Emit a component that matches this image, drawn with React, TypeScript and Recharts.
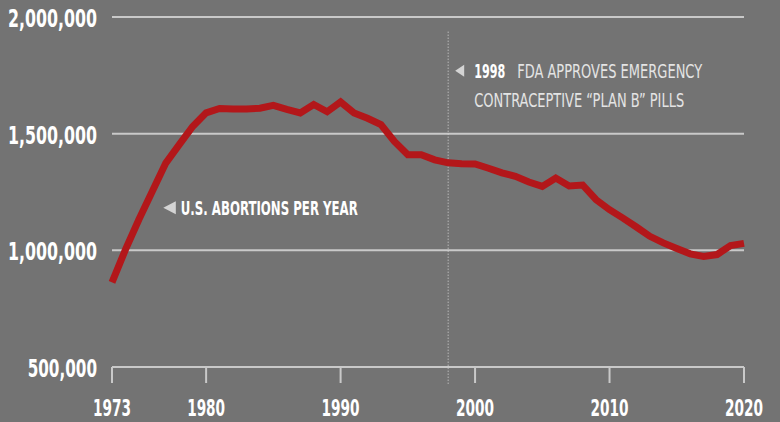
import {
  LineChart,
  Line,
  XAxis,
  YAxis,
  CartesianGrid,
  ReferenceLine,
  ReferenceDot,
} from "recharts";

const YEARS = [
  1973, 1974, 1975, 1976, 1977, 1978, 1979, 1980, 1981, 1982, 1983, 1984,
  1985, 1986, 1987, 1988, 1989, 1990, 1991, 1992, 1993, 1994, 1995, 1996,
  1997, 1998, 1999, 2000, 2001, 2002, 2003, 2004, 2005, 2006, 2007, 2008,
  2009, 2010, 2011, 2012, 2013, 2014, 2015, 2016, 2017, 2018, 2019, 2020,
];

// abortions per year
const ABORTIONS = [
  863000, 1003000, 1132000, 1253000, 1374000, 1453000, 1531000, 1589000,
  1608000, 1606000, 1606000, 1609000, 1621000, 1604000, 1589000, 1625000,
  1594000, 1636000, 1589000, 1566000, 1539000, 1467000, 1410000, 1410000,
  1388000, 1375000, 1371000, 1370000, 1352000, 1332000, 1317000, 1293000,
  1274000, 1310000, 1276000, 1280000, 1217000, 1174000, 1138000, 1100000,
  1060000, 1032000, 1008000, 985000, 974000, 982000, 1020000, 1030000,
];

const X_TICKS = [1973, 1980, 1990, 2000, 2010, 2020];
const Y_TICKS = [500000, 1000000, 1500000, 2000000];

const PLAN_B_YEAR = 1998;

const data = YEARS.map((year, i) => ({ year, value: ABORTIONS[i] }));

const BG = "#737373";
const GRID = "#c9c9c9";
const RED = "#b3171a";
const FONT = "'DejaVu Sans Condensed', 'Liberation Sans', sans-serif";

// the original uses a tall condensed face, so squeeze the text to its width
function YTick({ x, y, payload }: any) {
  const label = Number(payload.value).toLocaleString("en-US");
  return (
    <text
      x={x}
      y={y}
      dy={10}
      textAnchor="end"
      fill="#ffffff"
      fontFamily={FONT}
      fontSize={24}
      fontWeight={700}
      textLength={label.length * 9.9}
      lengthAdjust="spacingAndGlyphs"
    >
      {label}
    </text>
  );
}

function XTick({ x, y, payload }: any) {
  const label = String(payload.value);
  return (
    <text
      x={x}
      y={y}
      dy={19}
      textAnchor="middle"
      fill="#ffffff"
      fontFamily={FONT}
      fontSize={23}
      fontWeight={700}
      textLength={38}
      lengthAdjust="spacingAndGlyphs"
    >
      {label}
    </text>
  );
}

function PlanBNote({ cx, cy }: { cx?: number; cy?: number }) {
  if (cx == null || cy == null) return null;
  return (
    <g fontFamily={FONT}>
      <polygon
        points={`${cx + 7},${cy} ${cx + 16},${cy - 6} ${cx + 16},${cy + 6}`}
        fill="#d4d4d4"
      />
      <text
        x={cx + 26}
        y={cy + 7}
        fill="#ffffff"
        fontSize={19}
        fontWeight={700}
        textLength={31}
        lengthAdjust="spacingAndGlyphs"
      >
        1998
      </text>
      <text
        x={cx + 69}
        y={cy + 7}
        fill="#e4e4e4"
        fontSize={19}
        textLength={185}
        lengthAdjust="spacingAndGlyphs"
      >
        FDA APPROVES EMERGENCY
      </text>
      <text
        x={cx + 26}
        y={cy + 36}
        fill="#e4e4e4"
        fontSize={19}
        textLength={210}
        lengthAdjust="spacingAndGlyphs"
      >
        CONTRACEPTIVE “PLAN B” PILLS
      </text>
    </g>
  );
}

function SeriesNote({ cx, cy }: { cx?: number; cy?: number }) {
  if (cx == null || cy == null) return null;
  return (
    <g fontFamily={FONT}>
      <polygon
        points={`${cx - 2.5},${cy} ${cx + 10},${cy - 6.5} ${cx + 10},${cy + 6.5}`}
        fill="#d4d4d4"
      />
      <text
        x={cx + 15}
        y={cy + 7}
        fill="#ffffff"
        fontSize={19}
        fontWeight={700}
        textLength={177}
        lengthAdjust="spacingAndGlyphs"
      >
        U.S. ABORTIONS PER YEAR
      </text>
    </g>
  );
}

export default function App() {
  return (
    <div
      style={{
        position: "absolute",
        left: 0,
        top: 0,
        width: 780,
        height: 422,
        background: BG,
      }}
    >
      <LineChart
        width={780}
        height={422}
        data={data}
        margin={{ top: 17, right: 36, bottom: 0, left: 0 }}
      >
        <CartesianGrid vertical={false} stroke={GRID} strokeWidth={2} />
        <XAxis
          dataKey="year"
          type="number"
          domain={[1973, 2020]}
          ticks={X_TICKS}
          interval={0}
          height={55}
          tickSize={16}
          tickMargin={14}
          axisLine={{ stroke: GRID, strokeWidth: 2 }}
          tickLine={{ stroke: GRID, strokeWidth: 2 }}
          tick={XTick}
        />
        <YAxis
          type="number"
          domain={[500000, 2000000]}
          ticks={Y_TICKS}
          width={112}
          axisLine={false}
          tickLine={false}
          tickSize={0}
          tickMargin={15}
          tick={YTick}
        />
        <ReferenceLine
          segment={[
            { x: PLAN_B_YEAR, y: 1937000 },
            { x: PLAN_B_YEAR, y: 425000 },
          ]}
          stroke="#d8d8d8"
          strokeDasharray="1 2"
          ifOverflow="visible"
        />
        <Line
          type="linear"
          dataKey="value"
          stroke={RED}
          strokeWidth={7}
          dot={false}
          isAnimationActive={false}
        />
        <ReferenceDot
          x={PLAN_B_YEAR}
          y={1770000}
          ifOverflow="visible"
          shape={(p: any) => <PlanBNote cx={p.cx} cy={p.cy} />}
        />
        <ReferenceDot
          x={1977}
          y={1183000}
          ifOverflow="visible"
          shape={(p: any) => <SeriesNote cx={p.cx} cy={p.cy} />}
        />
      </LineChart>
    </div>
  );
}
